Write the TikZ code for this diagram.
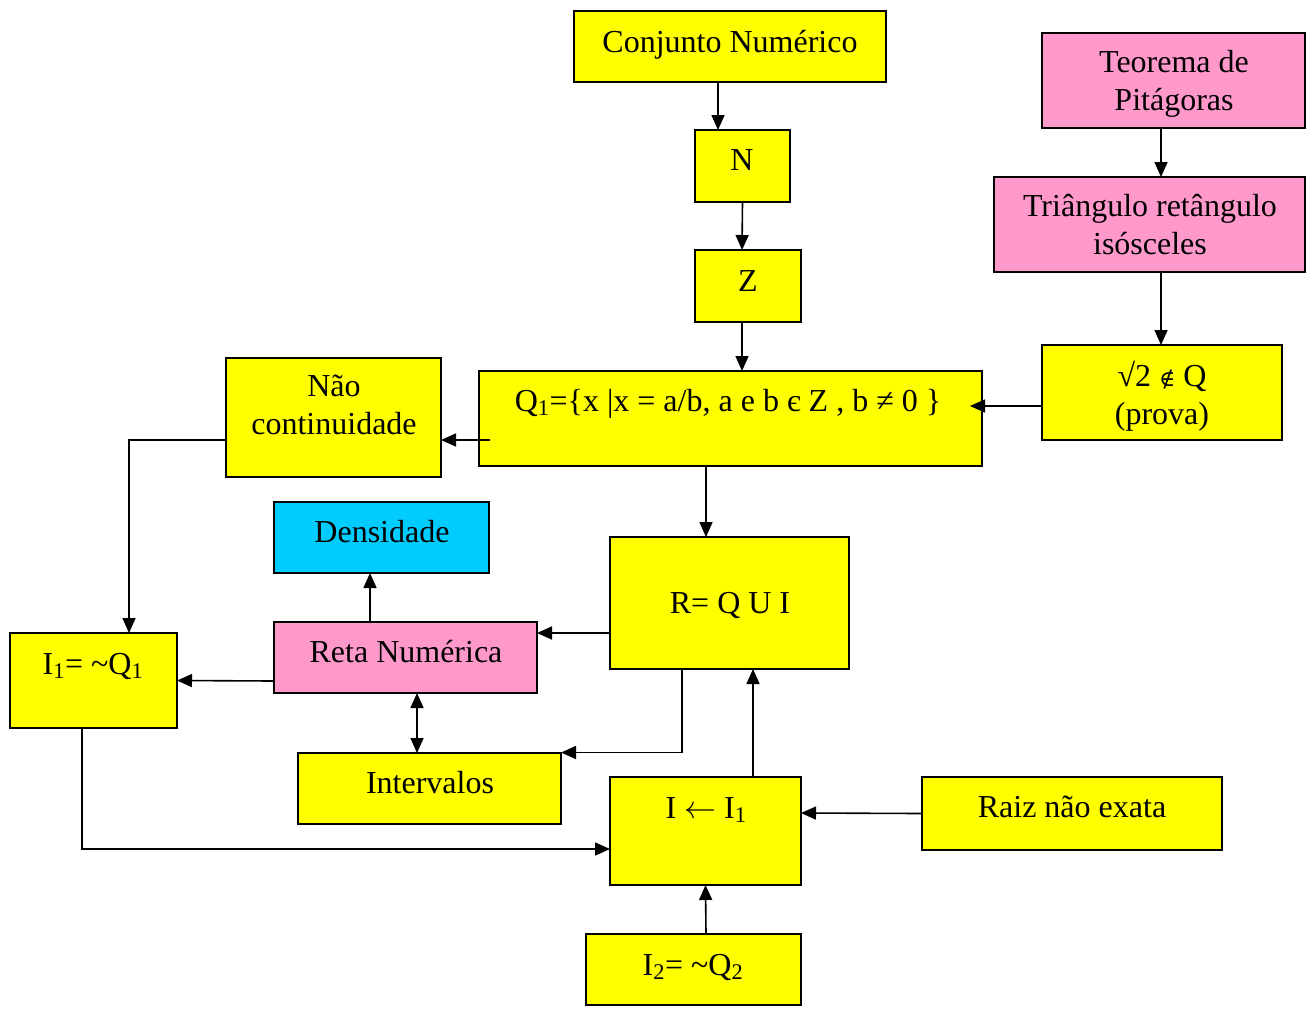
\RequirePackage{fix-cm}
\documentclass[tikz,border=0pt]{standalone}
\usepackage{fontspec}
\setmainfont{Liberation Serif}
\newfontfamily\symfont{DejaVu Serif}
\usetikzlibrary{arrows.meta}
\definecolor{boxyellow}{HTML}{FFFF00}
\definecolor{boxpink}{HTML}{FF99CC}
\definecolor{boxcyan}{HTML}{00CCFF}
\begin{document}
\begin{tikzpicture}[x=1pt,y=-1pt,
  box/.style={draw=black,line width=2pt,fill=boxyellow,anchor=north west,inner sep=0pt,outer sep=0pt},
  pinkbox/.style={box,fill=boxpink},
  cyanbox/.style={box,fill=boxcyan},
  txt/.style={font=\fontsize{32}{38}\selectfont,inner sep=0pt,align=center,anchor=base},
  arr/.style={line width=1.6pt,-{Triangle[length=15pt,width=13pt]}},
  dblarr/.style={line width=1.6pt,{Triangle[length=15pt,width=13pt]}-{Triangle[length=15pt,width=13pt]}}]
\useasboundingbox (0,0) rectangle (1308,1015);
% boxes
\node[box,minimum width=312pt,minimum height=71pt] (conj) at (574,11) {};
\node[box,minimum width=95pt,minimum height=72pt] (n) at (695,130) {};
\node[box,minimum width=106pt,minimum height=72pt] (z) at (695,250) {};
\node[pinkbox,minimum width=263pt,minimum height=95pt] (teo) at (1042,33) {};
\node[pinkbox,minimum width=311pt,minimum height=95pt] (tri) at (994,177) {};
\node[box,minimum width=240pt,minimum height=95pt] (sq) at (1042,345) {};
\node[box,minimum width=503pt,minimum height=95pt] (q1) at (479,371) {};
\node[box,minimum width=215pt,minimum height=119pt] (nao) at (226,358) {};
\node[cyanbox,minimum width=215pt,minimum height=71pt] (dens) at (274,502) {};
\node[box,minimum width=239pt,minimum height=132pt] (r) at (610,537) {};
\node[pinkbox,minimum width=263pt,minimum height=71pt] (reta) at (274,622) {};
\node[box,minimum width=167pt,minimum height=95pt] (i1) at (10,633) {};
\node[box,minimum width=263pt,minimum height=71pt] (int) at (298,753) {};
\node[box,minimum width=191pt,minimum height=108pt] (ii) at (610,777) {};
\node[box,minimum width=300pt,minimum height=73pt] (raiz) at (922,777) {};
\node[box,minimum width=215pt,minimum height=71pt] (i2) at (586,934) {};
% texts (base anchor = baseline of the last line)
\node[txt] (tconj) at (730,52) {Conjunto Numérico};
\node[txt] (tn) at (742,170) {N};
\node[txt] (tz) at (748,291) {Z};
\node[txt] (tteo) at (1174,110) {Teorema de\\Pitágoras};
\node[txt] (ttri) at (1150,254) {Triângulo retângulo\\isósceles};
\node[txt] (tsq) at (1162,424) {√2 {\symfont\fontsize{22}{22}\selectfont ∉} Q\\(prova)};
\node[txt] (tq1) at (728,411) {Q\textsubscript{1}=\{x |x = a/b, a e b є Z , b ≠ 0 \}};
\node[txt] (tnao) at (334,434) {Não\\continuidade};
\node[txt] (tdens) at (382,542) {Densidade};
\node[txt] (tr) at (730,613) {R= Q U I};
\node[txt] (treta) at (406,662) {Reta Numérica};
\node[txt] (ti1) at (93,674) {I\textsubscript{1}= \textasciitilde Q\textsubscript{1}};
\node[txt] (tint) at (430,793) {Intervalos};
\node[txt] (tii) at (706,818) {I $\leftarrow$ I\textsubscript{1}};
\node[txt] (traiz) at (1072,817) {Raiz não exata};
\node[txt] (ti2) at (693,975) {I\textsubscript{2}= \textasciitilde Q\textsubscript{2}};
% connectors
\draw[arr] ([xshift=-12pt]conj.south) -- ([xshift=-24.5pt]n.north);
\draw[arr] (n.south) -- ([xshift=-6pt]z.north);
\draw[arr] ([xshift=-6pt]z.south) -- ([xshift=11.5pt]q1.north);
\draw[arr] ([xshift=-12.5pt]teo.south) -- ([xshift=11.5pt]tri.north);
\draw[arr] ([xshift=11.5pt]tri.south) -- ([xshift=-1pt]sq.north);
\draw[arr] ([yshift=-13.5pt]sq.west) -- ([xshift=-12pt,yshift=12.5pt]q1.east);
\draw[arr] ([xshift=11pt,yshift=-21.5pt]q1.west) -- ([yshift=-22.5pt]nao.east);
\draw[arr] ([yshift=-22.5pt]nao.west) -| ([xshift=35.5pt]i1.north);
\draw[arr] ([xshift=-24.5pt]q1.south) -- ([xshift=-23.5pt]r.north);
\draw[arr] ([yshift=-30pt]r.west) -- ([yshift=24.5pt]reta.east);
\draw[arr] ([xshift=-35.5pt]reta.north) -- ([xshift=-11.5pt]dens.south);
\draw[arr] ([yshift=-23.5pt]reta.west) -- (i1.east);
\draw[dblarr] ([xshift=11.5pt]reta.south) -- ([xshift=-12.5pt]int.north);
\draw[arr] ([xshift=-47.5pt]r.south) |- ([yshift=36pt]int.east);
\draw[arr] ([xshift=-11.5pt]i1.south) |- ([yshift=-18pt]ii.west);
\draw[arr] ([xshift=47.5pt]ii.north) -- ([xshift=23.5pt]r.south);
\draw[arr] (raiz.west) -- ([yshift=18pt]ii.east);
\draw[arr] ([xshift=12.5pt]i2.north) -- (ii.south);
\end{tikzpicture}
\end{document}
